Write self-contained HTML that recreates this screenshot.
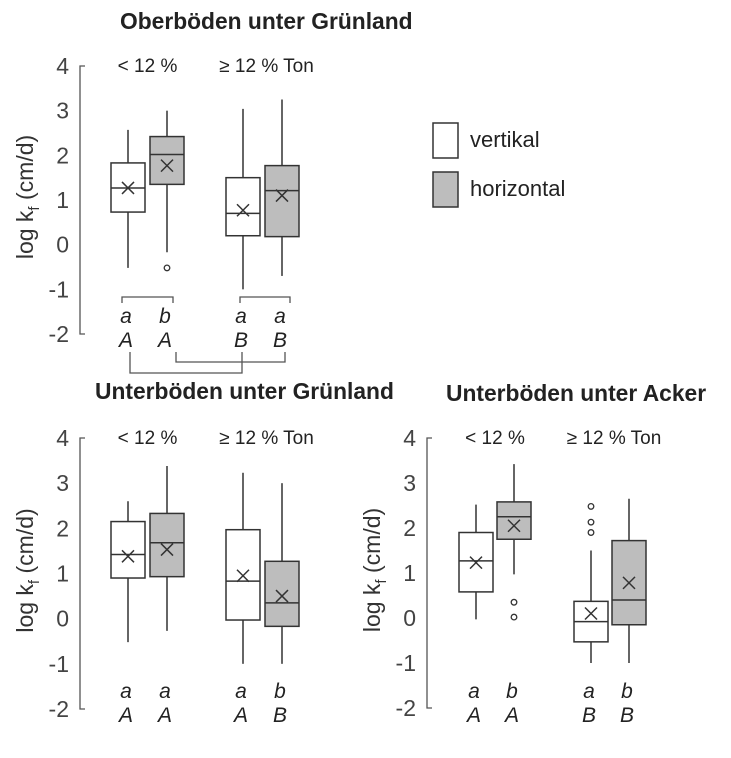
<!DOCTYPE html>
<html><head><meta charset="utf-8">
<style>
html,body{margin:0;padding:0;background:#fff;}
svg{display:block;font-family:"Liberation Sans",Arial,sans-serif;}
</style></head>
<body>
<svg id="chart" width="731" height="758" viewBox="0 0 731 758" xmlns="http://www.w3.org/2000/svg">
<text x="120" y="29" font-size="22.8" font-weight="bold" fill="#222">Oberböden unter Grünland</text>
<text x="95" y="399" font-size="22.8" font-weight="bold" fill="#222">Unterböden unter Grünland</text>
<text x="446" y="401" font-size="22.8" font-weight="bold" fill="#222">Unterböden unter Acker</text>
<g>
<rect x="433" y="123" width="25" height="35" fill="#fff" stroke="#333" stroke-width="1.5"/>
<text x="470" y="147" font-size="22" fill="#222">vertikal</text>
<rect x="433" y="172" width="25" height="35" fill="#bdbdbd" stroke="#333" stroke-width="1.5"/>
<text x="470" y="196" font-size="22" fill="#222">horizontal</text>
</g>
<g fill="none" stroke="#555" stroke-width="1.3">
<path d="M122 303 V297 H173 V303"/>
<path d="M240 303 V297 H290 V303"/>
<path d="M130 352 V373 H242 V352"/>
<path d="M176 352 V362 H285 V352"/>
</g>
</svg>
<script>
// Panel 1: Oberböden unter Grünland
const cats = ["vertikal <12", "horizontal <12", "vertikal ≥12", "horizontal ≥12"];
const p1Min = [-0.52, -0.17, -1.0, -0.7];
const p1Q1 = [0.73, 1.35, 0.2, 0.18];
const p1Med = [1.27, 2.02, 0.7, 1.21];
const p1Q3 = [1.83, 2.42, 1.5, 1.77];
const p1Max = [2.57, 3.0, 3.04, 3.25];
const p1Mean = [1.27, 1.77, 0.77, 1.1];
const p1Out = [[], [-0.52], [], []];
const p1Low = ["a", "b", "a", "a"];
const p1Up = ["A", "A", "B", "B"];
// Panel 2: Unterböden unter Grünland
const p2Min = [-0.52, -0.27, -1.0, -1.0];
const p2Q1 = [0.9, 0.93, -0.03, -0.17];
const p2Med = [1.42, 1.68, 0.83, 0.35];
const p2Q3 = [2.15, 2.33, 1.97, 1.27];
const p2Max = [2.6, 3.38, 3.23, 3.0];
const p2Mean = [1.38, 1.53, 0.95, 0.5];
const p2Out = [[], [], [], []];
const p2Low = ["a", "a", "a", "b"];
const p2Up = ["A", "A", "A", "B"];
// Panel 3: Unterböden unter Acker
const p3Min = [-0.03, 0.97, -1.0, -1.0];
const p3Q1 = [0.58, 1.75, -0.53, -0.15];
const p3Med = [1.27, 2.25, -0.08, 0.4];
const p3Q3 = [1.9, 2.58, 0.37, 1.72];
const p3Max = [2.52, 3.42, 1.5, 2.65];
const p3Mean = [1.23, 2.05, 0.1, 0.78];
const p3Out = [[], [0.35, 0.02], [1.9, 2.13, 2.48], []];
const p3Low = ["a", "b", "a", "b"];
const p3Up = ["A", "A", "B", "B"];
const yTicks = [4, 3, 2, 1, 0, -1, -2];
const groupLabels = ["< 12 %", "≥ 12 % Ton"];

const NS = "http://www.w3.org/2000/svg";
const svg = document.getElementById("chart");
function mk(tag, attrs, parent) {
  const e = document.createElementNS(NS, tag);
  for (const k in attrs) e.setAttribute(k, attrs[k]);
  (parent || svg).appendChild(e);
  return e;
}

function panel(cfg, d) {
  const y = v => cfg.yTop + (4 - v) * (cfg.yBot - cfg.yTop) / 6;
  const x = i => cfg.x0 + i * cfg.step + (i >= 2 ? cfg.gap : 0);
  const g = mk("g", {});
  
  
  const ax = mk("path", {d: `M${cfg.axX + 5} ${y(4)} H${cfg.axX} V${y(-2)} H${cfg.axX + 5}`, fill: "none", stroke: "#555", "stroke-width": 1.3}, g);
  
  
  yTicks.forEach(t => {
    const tl = mk("text", {x: cfg.axX - 11, y: y(t) + 8, "text-anchor": "end", "font-size": 23, fill: "#444"}, g);
    tl.textContent = t;
    
    
  });
  const yl = mk("text", {transform: `translate(${cfg.axX - 47} ${(y(4) + y(-2)) / 2 - 3}) rotate(-90)`, "text-anchor": "middle", "font-size": 23, fill: "#333"}, g);
  yl.innerHTML = 'log k<tspan font-size="15" dy="6">f</tspan><tspan dy="-6"> (cm/d)</tspan>';
  
  
  groupLabels.forEach((lab, j) => {
    const gl = mk("text", {x: (x(2 * j) + x(2 * j + 1)) / 2 + (j ? 4 : 0), y: y(4) + 6, "text-anchor": "middle", "font-size": 19, fill: "#222"}, g);
    gl.textContent = lab;
    
    
  });
  const hw = 17;
  cats.forEach((c, i) => {
    const cx = x(i);
    const fill = i % 2 ? "#bdbdbd" : "#fff";
    const b = mk("g", {stroke: "#333", "stroke-width": 1.5, fill: "none"}, g);
    
    
    mk("line", {x1: cx, x2: cx, y1: y(d.max[i]), y2: y(d.q3[i])}, b);
    mk("line", {x1: cx, x2: cx, y1: y(d.q1[i]), y2: y(d.min[i])}, b);
    mk("rect", {x: cx - hw, y: y(d.q3[i]), width: 2 * hw, height: y(d.q1[i]) - y(d.q3[i]), fill: fill}, b);
    mk("line", {x1: cx - hw, x2: cx + hw, y1: y(d.med[i]), y2: y(d.med[i])}, b);
    const my = y(d.mean[i]);
    mk("path", {d: `M${cx - 6} ${my - 6} L${cx + 6} ${my + 6} M${cx - 6} ${my + 6} L${cx + 6} ${my - 6}`}, b);
    d.out[i].forEach(o => {
      const oc = mk("circle", {cx: cx, cy: y(o), r: 2.8, "stroke-width": 1.3}, b);
      
      
    });
    const l1 = mk("text", {x: cx - 2, y: cfg.letY, "text-anchor": "middle", "font-size": 21, "font-style": "italic", fill: "#222"}, g);
    l1.textContent = d.low[i];
    
    
    const l2 = mk("text", {x: cx - 2, y: cfg.letY + 24, "text-anchor": "middle", "font-size": 21, "font-style": "italic", fill: "#222"}, g);
    l2.textContent = d.up[i];
    
    
  });
}

panel({name: "panel-oberboeden-gruenland", axX: 80, yTop: 66, yBot: 334, x0: 128, step: 39, gap: 37, letY: 323},
  {min: p1Min, q1: p1Q1, med: p1Med, q3: p1Q3, max: p1Max, mean: p1Mean, out: p1Out, low: p1Low, up: p1Up});
panel({name: "panel-unterboeden-gruenland", axX: 80, yTop: 438, yBot: 709, x0: 128, step: 39, gap: 37, letY: 698},
  {min: p2Min, q1: p2Q1, med: p2Med, q3: p2Q3, max: p2Max, mean: p2Mean, out: p2Out, low: p2Low, up: p2Up});
panel({name: "panel-unterboeden-acker", axX: 427, yTop: 438, yBot: 708, x0: 476, step: 38, gap: 39, letY: 698},
  {min: p3Min, q1: p3Q1, med: p3Med, q3: p3Q3, max: p3Max, mean: p3Mean, out: p3Out, low: p3Low, up: p3Up});
</script>
</body></html>
